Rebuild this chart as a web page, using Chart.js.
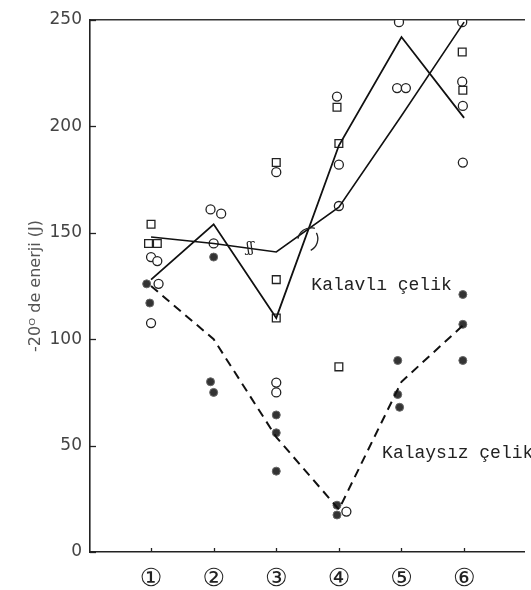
<!DOCTYPE html>
<html>
<head>
<meta charset="utf-8">
<script src="https://cdn.jsdelivr.net/npm/chart.js@4/dist/chart.umd.min.js"></script>
<style>
  body { margin: 0; background: #fff; }
  canvas { display: block; }
</style>
</head>
<body>
<canvas id="myChart" width="531" height="590"></canvas>
<script>
// categories on the x axis (circled numbers)
var categories = [1, 2, 3, 4, 5, 6];
var categoryLabels = ["①", "②", "③", "④", "⑤", "⑥"];
var yTicks = [0, 50, 100, 150, 200, 250];

// curves
var flatLine = [148, 145, 141, 162, 205, 249];
var zigzagLine = [128, 154, 110, 191, 242, 204];
var dashedLine = [125, 100, 54, 20, 80, 107];

// measured points
var openCircleX = [1.0, 1.1, 1.0, 1.12, 1.95, 2.12, 2.0, 3.0, 3.0, 3.0, 3.97, 4.0, 4.0, 4.12, 4.96, 4.93, 5.07, 5.97, 5.97, 5.98, 5.98];
var openCircleY = [138.6, 136.7, 107.6, 126, 161, 159, 145, 178.5, 79.6, 75, 214, 182, 162.6, 19, 249, 218, 218, 249, 221, 209.6, 183];

var squareX = [1.0, 0.96, 1.1, 3.0, 3.0, 3.0, 3.97, 4.0, 4.0, 5.97, 5.98];
var squareY = [154, 145, 145, 183, 128, 110, 209, 192, 87, 235, 217];

var filledX = [0.93, 0.98, 2.0, 1.95, 2.0, 3.0, 3.0, 3.0, 3.97, 3.97, 4.94, 4.94, 4.97, 5.98, 5.98, 5.98];
var filledY = [126, 117, 138.6, 80, 75, 64.4, 56, 38, 22, 17.4, 90, 74, 68, 121, 107, 90];

// off-scale arrows above the top points
var arrowX = [4.96, 5.97];
var arrowY = [255.5, 255.5];

// text notes on the plot
var notes = [
  { text: "Kalavlı çelik", x: 3.56, y: 125.5 },
  { text: "Kalaysız çelik", x: 4.69, y: 46.5 }
];

function pairs(xs, ys) {
  return xs.map(function (x, i) { return { x: x, y: ys[i] }; });
}

var notesPlugin = {
  id: "notes",
  afterDatasetsDraw: function (chart) {
    var ctx = chart.ctx;
    var xs = chart.scales.x;
    var ys = chart.scales.y;
    var area = chart.chartArea;
    ctx.save();
    // inward tick marks
    ctx.strokeStyle = "#222";
    ctx.lineWidth = 1.3;
    yTicks.forEach(function (v) {
      var py = Math.round(ys.getPixelForValue(v)) + 0.5;
      ctx.beginPath();
      ctx.moveTo(area.left, py);
      ctx.lineTo(area.left + 6, py);
      ctx.stroke();
    });
    categories.forEach(function (v) {
      var px = Math.round(xs.getPixelForValue(v)) + 0.5;
      ctx.beginPath();
      ctx.moveTo(px, area.bottom);
      ctx.lineTo(px, area.bottom - 4);
      ctx.stroke();
    });
    ctx.fillStyle = "#222";
    ctx.font = "18px 'Liberation Mono', 'DejaVu Sans Mono', monospace";
    ctx.textBaseline = "middle";
    ctx.textAlign = "left";
    notes.forEach(function (n) {
      ctx.fillText(n.text, xs.getPixelForValue(n.x), ys.getPixelForValue(n.y));
    });
    // break mark on the flat line
    ctx.font = "14px 'DejaVu Serif', serif";
    ctx.textAlign = "center";
    ctx.fillText("ʃʃ", xs.getPixelForValue(2.58), ys.getPixelForValue(142.5));
    // crossing arcs
    var cx = xs.getPixelForValue(3.52);
    var cy = ys.getPixelForValue(150);
    ctx.lineWidth = 1.3;
    ctx.beginPath();
    ctx.arc(cx + 2, cy + 8, 13, Math.PI * 1.05, Math.PI * 1.6);
    ctx.stroke();
    ctx.beginPath();
    ctx.arc(cx - 4, cy + 6, 13, Math.PI * 1.85, Math.PI * 0.35);
    ctx.stroke();
    ctx.restore();
  }
};

var ctx = document.getElementById("myChart").getContext("2d");
var myChart = new Chart(ctx, {
  type: "scatter",
  data: {
    datasets: [
      {
        type: "line",
        data: pairs(categories, flatLine),
        borderColor: "#111",
        borderWidth: 1.6,
        pointRadius: 0,
        fill: false,
      },
      {
        type: "line",
        data: pairs(categories, zigzagLine),
        borderColor: "#111",
        borderWidth: 1.8,
        pointRadius: 0,
        fill: false,
      },
      {
        type: "line",
        data: pairs(categories, dashedLine),
        borderColor: "#111",
        borderWidth: 2,
        borderDash: [9, 6],
        pointRadius: 0,
        fill: false,
      },
      {
        data: pairs(squareX, squareY),
        pointStyle: "rect",
        pointRadius: 5.5,
        backgroundColor: "#fff",
        borderColor: "#222",
        borderWidth: 1.3,
      },
      {
        data: pairs(openCircleX, openCircleY),
        pointStyle: "circle",
        pointRadius: 4.5,
        backgroundColor: "#fff",
        borderColor: "#222",
        borderWidth: 1.3,
      },
      {
        data: pairs(filledX, filledY),
        pointStyle: "circle",
        pointRadius: 4,
        backgroundColor: "#333",
        borderColor: "#666",
        borderWidth: 1,
      },
      {
        data: pairs(arrowX, arrowY),
        pointStyle: "triangle",
        pointRadius: 2.5,
        backgroundColor: "#222",
        borderColor: "#222",
        borderWidth: 1,
        clip: false,
      },
    ],
  },
  options: {
    responsive: false,
    animation: false,
    layout: { padding: { top: 0, right: 0, bottom: 0, left: 0 } },
    plugins: {
      legend: { display: false },
      tooltip: { enabled: false },
    },
    scales: {
      x: {
        type: "linear",
        min: 0.025,
        max: 6.96,
        afterBuildTicks: function (scale) {
          scale.ticks = categories.map(function (v) { return { value: v }; });
        },
        afterFit: function (scale) { scale.height = 38; },
        ticks: {
          callback: function (value) { return categoryLabels[categories.indexOf(value)]; },
          font: { size: 25, family: "'DejaVu Sans', sans-serif" },
          color: "#222",
          padding: 12,
          maxRotation: 0,
        },
        grid: { display: false, drawTicks: false },
        border: { color: "#222", width: 1.6 },
      },
      x2: {
        type: "linear",
        position: "top",
        min: 0.025,
        max: 6.96,
        afterFit: function (scale) { scale.height = 20; },
        ticks: { display: false },
        grid: { display: false },
        border: { color: "#333", width: 1.4 },
      },
      y: {
        min: 0,
        max: 250,
        afterBuildTicks: function (scale) {
          scale.ticks = yTicks.map(function (v) { return { value: v }; });
        },
        afterFit: function (scale) { scale.width = 90; },
        ticks: {
          font: { size: 17, family: "'DejaVu Sans', sans-serif" },
          color: "#444",
          padding: 8,
        },
        grid: { display: false, drawTicks: false },
        border: { color: "#222", width: 1.6 },
        title: {
          display: true,
          text: "-20ᴼ de enerji (J)",
          font: { size: 16, family: "'DejaVu Sans', sans-serif" },
          color: "#555",
          padding: { top: 26, bottom: 0 },
        },
      },
    },
  },
  plugins: [notesPlugin],
});
</script>
</body>
</html>
